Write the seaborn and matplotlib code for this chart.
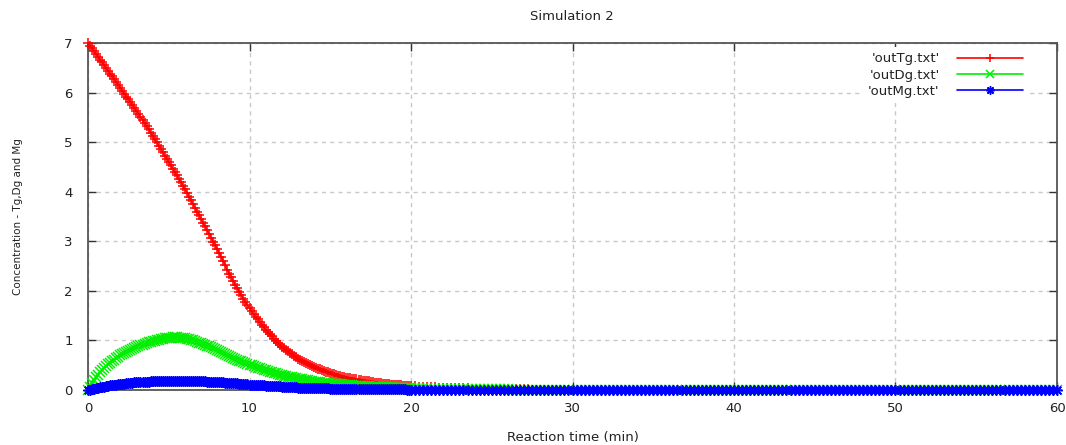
import numpy as np
import pandas as pd
import matplotlib
matplotlib.use("Agg")
import matplotlib.pyplot as plt
import seaborn as sns

# ---------------- data ----------------
SERIES = ["'outTg.txt'", "'outDg.txt'", "'outMg.txt'"]

# sample times: every 0.125 min up to 20, then every 0.25 min up to 60
TIME_FINE = np.arange(0, 20, 0.125)
TIME_COARSE = np.arange(20, 60.001, 0.25)

# one row per minute
TG_FINE = [
    7.00, 6.94, 6.89, 6.83, 6.78, 6.72, 6.66, 6.61,
    6.55, 6.49, 6.44, 6.38, 6.33, 6.27, 6.21, 6.16,
    6.10, 6.04, 5.98, 5.92, 5.87, 5.81, 5.75, 5.69,
    5.63, 5.57, 5.51, 5.44, 5.38, 5.32, 5.26, 5.19,
    5.13, 5.06, 5.00, 4.93, 4.87, 4.80, 4.73, 4.67,
    4.60, 4.53, 4.46, 4.39, 4.33, 4.26, 4.19, 4.12,
    4.05, 3.98, 3.90, 3.83, 3.75, 3.68, 3.60, 3.53,
    3.45, 3.37, 3.30, 3.22, 3.15, 3.07, 2.99, 2.92,
    2.84, 2.76, 2.68, 2.60, 2.52, 2.43, 2.35, 2.27,
    2.19, 2.12, 2.05, 1.98, 1.91, 1.84, 1.77, 1.71,
    1.65, 1.59, 1.53, 1.48, 1.43, 1.37, 1.32, 1.27,
    1.22, 1.17, 1.12, 1.08, 1.03, 0.99, 0.95, 0.91,
    0.87, 0.84, 0.81, 0.78, 0.75, 0.72, 0.69, 0.66,
    0.63, 0.605, 0.58, 0.56, 0.54, 0.52, 0.50, 0.48,
    0.46, 0.445, 0.43, 0.415, 0.40, 0.385, 0.37, 0.355,
    0.34, 0.33, 0.32, 0.305, 0.29, 0.28, 0.27, 0.26,
    0.25, 0.243, 0.235, 0.228, 0.22, 0.213, 0.205, 0.198,
    0.19, 0.185, 0.18, 0.173, 0.165, 0.158, 0.15, 0.145,
    0.14, 0.135, 0.13, 0.125, 0.12, 0.115, 0.11, 0.108,
    0.105, 0.103, 0.10, 0.095, 0.09, 0.088, 0.085, 0.083,
]
TG_COARSE = [
    0.080, 0.075, 0.070, 0.065,
    0.060, 0.056, 0.052, 0.048,
    0.045, 0.042, 0.040, 0.037,
    0.035, 0.033, 0.031, 0.029,
    0.027, 0.025, 0.023, 0.022,
    0.020, 0.019, 0.018, 0.016,
    0.015, 0.014, 0.013, 0.012,
    0.012, 0.011, 0.010, 0.010,
    0.009, 0.009, 0.008, 0.008,
    0.007, 0.007, 0.006, 0.006,
    0.005, 0.005, 0.005, 0.005,
    0.004, 0.004, 0.004, 0.004,
    0.004, 0.004, 0.003, 0.003,
    0.003, 0.003, 0.003, 0.003,
    0.003, 0.003, 0.003, 0.002,
    0.002, 0.002, 0.002, 0.002,
    0.002, 0.002, 0.002, 0.002,
    0.002, 0.002, 0.002, 0.002,
    0.002, 0.002, 0.002, 0.002,
    0.002, 0.002, 0.002, 0.002,
    0.001, 0.001, 0.001, 0.001,
    0.001, 0.001, 0.001, 0.001,
    0.001, 0.001, 0.001, 0.001,
    0.001, 0.001, 0.001, 0.001,
    0.001, 0.001, 0.001, 0.001,
    0.000, 0.000, 0.000, 0.000,
    0.000, 0.000, 0.000, 0.000,
    0.000, 0.000, 0.000, 0.000,
    0.000, 0.000, 0.000, 0.000,
    0.000, 0.000, 0.000, 0.000,
    0.000, 0.000, 0.000, 0.000,
    0.000, 0.000, 0.000, 0.000,
    0.000, 0.000, 0.000, 0.000,
    0.000, 0.000, 0.000, 0.000,
    0.000, 0.000, 0.000, 0.000,
    0.000, 0.000, 0.000, 0.000,
    0.000, 0.000, 0.000, 0.000,
    0.000, 0.000, 0.000, 0.000,
    0.000, 0.000, 0.000, 0.000,
    0.000, 0.000, 0.000, 0.000,
    0.000,
]

DG_FINE = [
    0.00, 0.07, 0.14, 0.20, 0.26, 0.31, 0.36, 0.41,
    0.45, 0.49, 0.52, 0.55, 0.58, 0.61, 0.64, 0.67,
    0.70, 0.73, 0.75, 0.77, 0.79, 0.81, 0.83, 0.85,
    0.87, 0.885, 0.90, 0.915, 0.93, 0.945, 0.96, 0.97,
    0.98, 0.99, 1.00, 1.01, 1.02, 1.03, 1.04, 1.045,
    1.05, 1.055, 1.06, 1.06, 1.06, 1.055, 1.05, 1.045,
    1.04, 1.03, 1.02, 1.01, 1.00, 0.985, 0.97, 0.955,
    0.94, 0.925, 0.91, 0.895, 0.88, 0.86, 0.84, 0.82,
    0.80, 0.78, 0.76, 0.74, 0.72, 0.705, 0.69, 0.67,
    0.65, 0.63, 0.61, 0.595, 0.58, 0.56, 0.54, 0.525,
    0.51, 0.495, 0.48, 0.465, 0.45, 0.435, 0.42, 0.41,
    0.40, 0.385, 0.37, 0.36, 0.35, 0.335, 0.32, 0.31,
    0.30, 0.29, 0.28, 0.27, 0.26, 0.253, 0.245, 0.238,
    0.23, 0.223, 0.215, 0.208, 0.20, 0.193, 0.185, 0.178,
    0.17, 0.165, 0.16, 0.155, 0.15, 0.145, 0.14, 0.135,
    0.13, 0.126, 0.122, 0.118, 0.115, 0.112, 0.108, 0.104,
    0.10, 0.098, 0.095, 0.093, 0.09, 0.088, 0.085, 0.083,
    0.08, 0.078, 0.075, 0.073, 0.07, 0.068, 0.066, 0.064,
    0.062, 0.060, 0.058, 0.057, 0.055, 0.054, 0.052, 0.051,
    0.050, 0.049, 0.047, 0.046, 0.045, 0.044, 0.042, 0.041,
]
DG_COARSE = [
    0.040, 0.038, 0.036, 0.034,
    0.032, 0.030, 0.029, 0.027,
    0.026, 0.024, 0.023, 0.022,
    0.021, 0.020, 0.019, 0.018,
    0.017, 0.016, 0.015, 0.014,
    0.014, 0.013, 0.012, 0.012,
    0.011, 0.010, 0.010, 0.009,
    0.009, 0.008, 0.008, 0.007,
    0.007, 0.007, 0.006, 0.006,
    0.006, 0.005, 0.005, 0.005,
    0.004, 0.004, 0.004, 0.004,
    0.004, 0.003, 0.003, 0.003,
    0.003, 0.003, 0.003, 0.003,
    0.003, 0.002, 0.002, 0.002,
    0.002, 0.002, 0.002, 0.002,
    0.002, 0.002, 0.002, 0.002,
    0.002, 0.002, 0.002, 0.002,
    0.001, 0.001, 0.001, 0.001,
    0.001, 0.001, 0.001, 0.001,
    0.001, 0.001, 0.001, 0.001,
    0.001, 0.001, 0.001, 0.001,
    0.001, 0.001, 0.001, 0.001,
    0.000, 0.000, 0.000, 0.000,
    0.000, 0.000, 0.000, 0.000,
    0.000, 0.000, 0.000, 0.000,
    0.000, 0.000, 0.000, 0.000,
    0.000, 0.000, 0.000, 0.000,
    0.000, 0.000, 0.000, 0.000,
    0.000, 0.000, 0.000, 0.000,
    0.000, 0.000, 0.000, 0.000,
    0.000, 0.000, 0.000, 0.000,
    0.000, 0.000, 0.000, 0.000,
    0.000, 0.000, 0.000, 0.000,
    0.000, 0.000, 0.000, 0.000,
    0.000, 0.000, 0.000, 0.000,
    0.000, 0.000, 0.000, 0.000,
    0.000, 0.000, 0.000, 0.000,
    0.000, 0.000, 0.000, 0.000,
    0.000, 0.000, 0.000, 0.000,
    0.000, 0.000, 0.000, 0.000,
    0.000,
]

MG_FINE = [
    0.00, 0.01, 0.02, 0.03, 0.04, 0.048, 0.055, 0.063,
    0.07, 0.078, 0.085, 0.093, 0.10, 0.105, 0.11, 0.115,
    0.12, 0.125, 0.13, 0.135, 0.14, 0.144, 0.148, 0.152,
    0.155, 0.158, 0.16, 0.163, 0.165, 0.168, 0.17, 0.173,
    0.175, 0.177, 0.178, 0.179, 0.18, 0.182, 0.183, 0.184,
    0.185, 0.186, 0.186, 0.186, 0.186, 0.186, 0.186, 0.186,
    0.185, 0.184, 0.183, 0.182, 0.18, 0.179, 0.178, 0.177,
    0.175, 0.174, 0.172, 0.170, 0.168, 0.166, 0.164, 0.162,
    0.16, 0.158, 0.155, 0.153, 0.15, 0.148, 0.145, 0.143,
    0.14, 0.137, 0.133, 0.13, 0.126, 0.122, 0.118, 0.114,
    0.11, 0.108, 0.105, 0.103, 0.10, 0.098, 0.095, 0.093,
    0.09, 0.088, 0.085, 0.083, 0.08, 0.078, 0.075, 0.073,
    0.07, 0.068, 0.065, 0.063, 0.06, 0.058, 0.055, 0.053,
    0.05, 0.049, 0.048, 0.047, 0.045, 0.044, 0.042, 0.041,
    0.04, 0.039, 0.038, 0.037, 0.035, 0.034, 0.032, 0.031,
    0.03, 0.03, 0.029, 0.029, 0.028, 0.027, 0.026, 0.026,
    0.025, 0.025, 0.024, 0.023, 0.022, 0.022, 0.021, 0.021,
    0.02, 0.02, 0.019, 0.019, 0.018, 0.017, 0.016, 0.016,
    0.015, 0.015, 0.014, 0.014, 0.013, 0.013, 0.012, 0.012,
    0.012, 0.012, 0.011, 0.011, 0.011, 0.011, 0.010, 0.010,
]
MG_COARSE = [
    0.010, 0.010, 0.009, 0.009,
    0.009, 0.008, 0.008, 0.008,
    0.007, 0.007, 0.007, 0.007,
    0.006, 0.006, 0.006, 0.006,
    0.005, 0.005, 0.005, 0.005,
    0.005, 0.004, 0.004, 0.004,
    0.004, 0.004, 0.004, 0.004,
    0.003, 0.003, 0.003, 0.003,
    0.003, 0.003, 0.003, 0.003,
    0.003, 0.003, 0.003, 0.003,
    0.003, 0.003, 0.003, 0.002,
    0.002, 0.002, 0.002, 0.002,
    0.002, 0.002, 0.002, 0.002,
    0.002, 0.002, 0.002, 0.002,
    0.002, 0.002, 0.002, 0.002,
    0.002, 0.002, 0.002, 0.002,
    0.001, 0.001, 0.001, 0.001,
    0.001, 0.001, 0.001, 0.001,
    0.001, 0.001, 0.001, 0.001,
    0.001, 0.001, 0.001, 0.001,
    0.001, 0.001, 0.001, 0.001,
    0.001, 0.001, 0.001, 0.001,
    0.001, 0.001, 0.001, 0.001,
    0.001, 0.001, 0.001, 0.001,
    0.000, 0.000, 0.000, 0.000,
    0.000, 0.000, 0.000, 0.000,
    0.000, 0.000, 0.000, 0.000,
    0.000, 0.000, 0.000, 0.000,
    0.000, 0.000, 0.000, 0.000,
    0.000, 0.000, 0.000, 0.000,
    0.000, 0.000, 0.000, 0.000,
    0.000, 0.000, 0.000, 0.000,
    0.000, 0.000, 0.000, 0.000,
    0.000, 0.000, 0.000, 0.000,
    0.000, 0.000, 0.000, 0.000,
    0.000, 0.000, 0.000, 0.000,
    0.000, 0.000, 0.000, 0.000,
    0.000, 0.000, 0.000, 0.000,
    0.000, 0.000, 0.000, 0.000,
    0.000, 0.000, 0.000, 0.000,
    0.000,
]

X_TICKS = [0, 10, 20, 30, 40, 50, 60]
Y_TICKS = [0, 1, 2, 3, 4, 5, 6, 7]

# ---------------- style ----------------
sns.set_theme(style="white")
plt.rcParams['font.family'] = ['DejaVu Sans']

COLORS = ['#ff0000', '#00ee00', '#0000ff']
MARKERS = ['+', 'x', (8, 2, 0)]
MSIZES = [7, 6.5, 7.5]
TEXT_C = '#222222'
FS = 9.5

time = np.concatenate([TIME_FINE, TIME_COARSE])
frames = []
for name, fine, coarse in zip(SERIES, [TG_FINE, DG_FINE, MG_FINE],
                              [TG_COARSE, DG_COARSE, MG_COARSE]):
    frames.append(pd.DataFrame({'t': time,
                                'c': np.concatenate([fine, coarse]),
                                'series': name}))
df = pd.concat(frames, ignore_index=True)

fig = plt.figure(figsize=(10.66, 4.45), dpi=100)
ax = fig.add_axes([88 / 1066, 1 - 390 / 445, 969 / 1066, 347 / 445])

for name, color, marker, ms in zip(SERIES, COLORS, MARKERS, MSIZES):
    sub = df[df['series'] == name]
    sns.lineplot(data=sub, x='t', y='c', ax=ax, color=color, marker=marker,
                 markersize=ms, markeredgecolor=color, markeredgewidth=1.1,
                 linewidth=1.2, estimator=None, sort=False, legend=False,
                 clip_on=False, zorder=3)

ax.set_xlim(0, 60)
ax.set_ylim(0, 7)
ax.set_xticks(X_TICKS)
ax.set_yticks(Y_TICKS)
ax.set_xticklabels([str(v) for v in X_TICKS])
ax.set_yticklabels([str(v) for v in Y_TICKS])

ax.grid(True, color='#c8c8c8', linestyle=(0, (3, 3)), linewidth=1.0)
ax.set_axisbelow(True)
for s in ax.spines.values():
    s.set_color('#555555')
    s.set_linewidth(1.3)
    s.set_visible(True)

ax.tick_params(axis='both', direction='in', length=6, width=1.0,
               color='#333333', labelcolor=TEXT_C, labelsize=FS,
               top=True, right=True, bottom=True, left=True)
ax.tick_params(axis='y', pad=11)
ax.tick_params(axis='x', pad=9)

ax.set_xlabel('Reaction time (min)', fontsize=FS, color=TEXT_C)
ax.xaxis.set_label_coords(0.5, -0.118)
ax.set_ylabel('Concentration - Tg,Dg and Mg', fontsize=7.5, color=TEXT_C)
ax.yaxis.set_label_coords(-0.067, 0.5)
fig.text(572 / 1066, 1 - 16 / 445, 'Simulation 2', ha='center', va='center',
         fontsize=FS, color=TEXT_C)

handles = ax.get_lines()[:3]
leg = ax.legend(handles, SERIES, loc='upper right',
                bbox_to_anchor=(0.977, 1.007), frameon=True,
                facecolor='white', edgecolor='none', framealpha=1,
                fancybox=False, markerfirst=False, handlelength=5,
                handletextpad=1.3, labelspacing=0.25, borderpad=0.4,
                fontsize=FS, numpoints=1)
for t in leg.get_texts():
    t.set_color(TEXT_C)
for h in leg.legend_handles:
    h.set_markersize(6)

fig.savefig('out.png', dpi=100)
